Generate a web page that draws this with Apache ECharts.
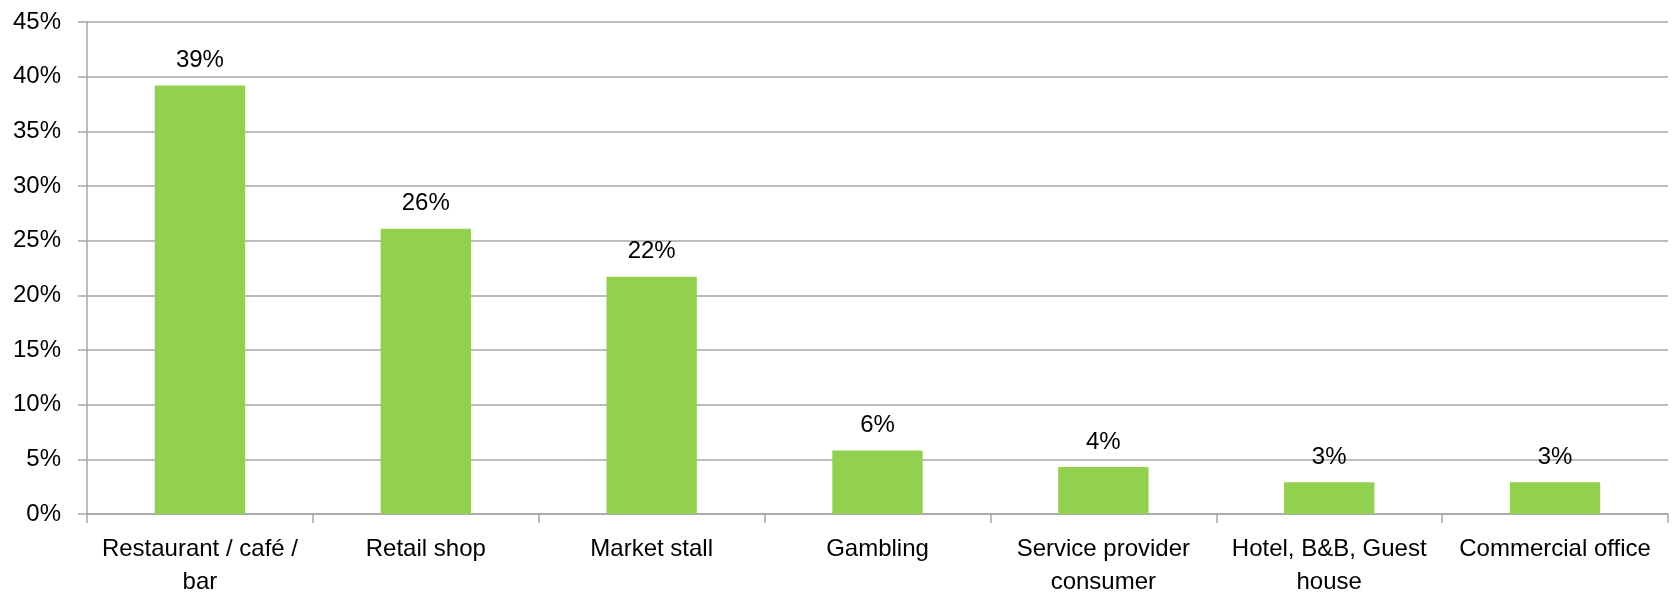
<!DOCTYPE html>
<html>
<head>
<meta charset="utf-8">
<script src="https://cdn.jsdelivr.net/npm/echarts@6/dist/echarts.min.js"></script>
<style>
  html, body { margin: 0; padding: 0; background: #fff; }
  #chart { width: 1677px; height: 599px; }
</style>
</head>
<body>
<div id="chart"></div>
<script>
// Business premises categories and their shares (%)
const categories = [
  'Restaurant / café / bar',
  'Retail shop',
  'Market stall',
  'Gambling',
  'Service provider consumer',
  'Hotel, B&B, Guest house',
  'Commercial office'
];
const shares = [39.2, 26.1, 21.7, 5.8, 4.3, 2.9, 2.9];

const yMin = 0;
const yMax = 45;
const yStep = 5;

const fontFamily = '"Liberation Sans", Arial, sans-serif';
const fontSize = 24;

// Word-wrap a category name to a maximum pixel width
const measureCtx = document.createElement('canvas').getContext('2d');
measureCtx.font = fontSize + 'px ' + fontFamily;
function wrapLabel(text, maxWidth) {
  const words = text.split(' ');
  const lines = [];
  let line = '';
  for (const w of words) {
    const trial = line ? line + ' ' + w : w;
    if (line && measureCtx.measureText(trial).width > maxWidth) {
      lines.push(line);
      line = w;
    } else {
      line = trial;
    }
  }
  if (line) lines.push(line);
  return lines.join('\n');
}

const chart = echarts.init(document.getElementById('chart'), null, { renderer: 'canvas' });

chart.setOption({
  animation: false,
  backgroundColor: '#ffffff',
  grid: { left: 87, right: 9, top: 22, bottom: 84, containLabel: false },
  xAxis: {
    type: 'category',
    data: categories,
    axisLine: { show: true, lineStyle: { color: '#a6a6a6', width: 1.5 } },
    axisTick: { show: true, alignWithLabel: false, length: 9, lineStyle: { color: '#a6a6a6', width: 1.5 } },
    axisLabel: {
      color: '#000',
      fontFamily: fontFamily,
      fontSize: fontSize,
      lineHeight: 33,
      margin: 19,
      interval: 0,
      formatter: v => wrapLabel(v, 205)
    }
  },
  yAxis: {
    type: 'value',
    min: yMin,
    max: yMax,
    interval: yStep,
    axisLine: { show: true, lineStyle: { color: '#a6a6a6', width: 1.5 } },
    axisTick: { show: true, length: 9, lineStyle: { color: '#a6a6a6', width: 1.5 } },
    splitLine: { show: true, lineStyle: { color: '#a6a6a6', width: 1.5 } },
    axisLabel: {
      color: '#000',
      fontFamily: fontFamily,
      fontSize: fontSize,
      margin: 26,
      formatter: '{value}%'
    }
  },
  series: [{
    type: 'bar',
    data: shares,
    barWidth: '40%',
    itemStyle: { color: '#92d050' },
    label: {
      show: true,
      position: 'top',
      distance: 13,
      color: '#000',
      fontFamily: fontFamily,
      fontSize: fontSize,
      formatter: p => Math.round(p.value) + '%'
    }
  }]
});
</script>
</body>
</html>
